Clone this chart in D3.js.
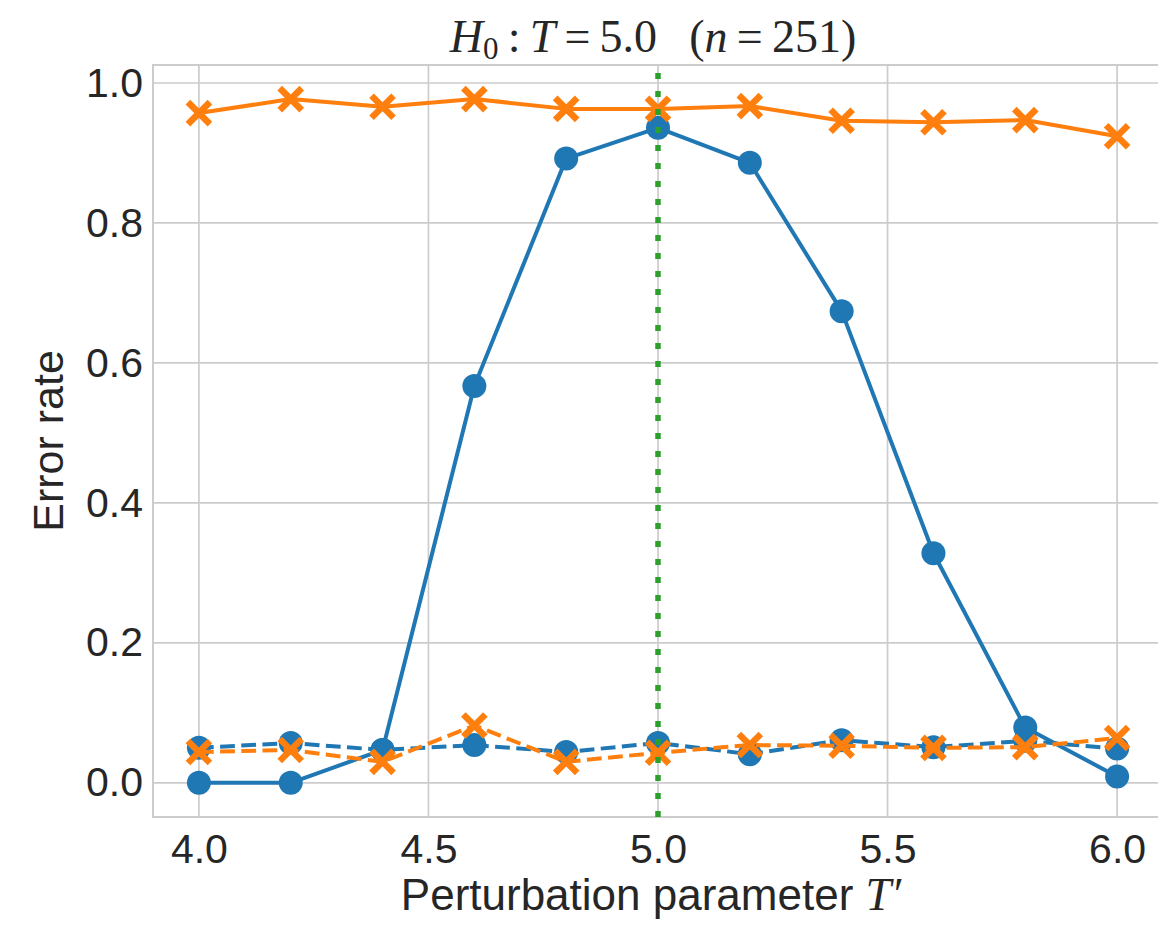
<!DOCTYPE html>
<html>
<head>
<meta charset="utf-8">
<script src="https://cdn.jsdelivr.net/npm/d3@7"></script>
<style>
  html, body { margin: 0; padding: 0; background: #ffffff; }
  svg { display: block; }
</style>
</head>
<body>
<svg id="chart" width="1158" height="927"></svg>
<script>
// Perturbation parameter values (x axis)
const tPrime = [4.0, 4.2, 4.4, 4.6, 4.8, 5.0, 5.2, 5.4, 5.6, 5.8, 6.0];

// Error rates per method / condition
const blueSolid    = [0.000, 0.000, 0.047, 0.567, 0.892, 0.936, 0.886, 0.674, 0.328, 0.079, 0.009];
const orangeSolid  = [0.957, 0.977, 0.966, 0.977, 0.963, 0.963, 0.967, 0.946, 0.944, 0.947, 0.924];
const blueDashed   = [0.050, 0.057, 0.047, 0.054, 0.044, 0.057, 0.041, 0.061, 0.051, 0.060, 0.049];
const orangeDashed = [0.044, 0.047, 0.030, 0.082, 0.030, 0.043, 0.054, 0.053, 0.050, 0.051, 0.064];

const nullT = 5.0;
const xTicks = [4.0, 4.5, 5.0, 5.5, 6.0];
const yTicks = [0.0, 0.2, 0.4, 0.6, 0.8, 1.0];

const BLUE = "#1f77b4", ORANGE = "#ff7f0e", GREEN = "#2ca02c";
const GRID = "#cccccc", TEXT = "#262626";
const SANS = "'Liberation Sans', Arial, Helvetica, sans-serif";
const SERIF = "'Liberation Serif', 'Times New Roman', serif";

const svg = d3.select("#chart");

// Plot area
const plotL = 153, plotR = 1163, plotT = 65, plotB = 817;
const x = d3.scaleLinear().domain([3.9, 6.1]).range([plotL, plotR]);
const y = d3.scaleLinear().domain([-0.0488, 1.0257]).range([plotB, plotT]);

const plot = svg.append("g");

// Grid lines
plot.append("g").selectAll("line").data(xTicks).join("line")
  .attr("x1", d => x(d)).attr("x2", d => x(d))
  .attr("y1", plotT).attr("y2", plotB)
  .attr("stroke", GRID).attr("stroke-width", 1.7);
plot.append("g").selectAll("line").data(yTicks).join("line")
  .attr("x1", plotL).attr("x2", plotR)
  .attr("y1", d => y(d)).attr("y2", d => y(d))
  .attr("stroke", GRID).attr("stroke-width", 1.7);

// Frame
plot.append("rect")
  .attr("x", plotL).attr("y", plotT)
  .attr("width", plotR - plotL).attr("height", plotB - plotT)
  .attr("fill", "none").attr("stroke", GRID).attr("stroke-width", 2);

// Axes (labels only, no tick marks)
const xAxis = d3.axisBottom(x).tickValues(xTicks).tickFormat(d3.format(".1f")).tickSize(0).tickPadding(17);
const yAxis = d3.axisLeft(y).tickValues(yTicks).tickFormat(d3.format(".1f")).tickSize(0).tickPadding(10);

const gx = svg.append("g").attr("transform", `translate(0,${plotB})`).call(xAxis);
const gy = svg.append("g").attr("transform", `translate(${plotL},0)`).call(yAxis);
[gx, gy].forEach(g => {
  g.select(".domain").remove();
  g.selectAll("text")
    .attr("font-family", SANS).attr("font-size", 41).attr("fill", TEXT);
});

const line = d3.line().x((d, i) => x(tPrime[i])).y(d => y(d));

function drawSeries(values, color, dashed, marker) {
  const g = plot.append("g");
  g.append("path")
    .attr("d", line(values))
    .attr("fill", "none")
    .attr("stroke", color)
    .attr("stroke-width", 4)
    .attr("stroke-linejoin", "round")
    .attr("stroke-dasharray", dashed ? "14.8 6.4" : null);
  const pts = g.selectAll("g").data(values).join("g")
    .attr("transform", (d, i) => `translate(${x(tPrime[i])},${y(d)})`);
  if (marker === "o") {
    pts.append("circle").attr("r", 12).attr("fill", color);
  } else {
    const s = 11;
    pts.append("path")
      .attr("d", `M${-s},${-s}L${s},${s}M${-s},${s}L${s},${-s}`)
      .attr("stroke", color).attr("stroke-width", 6.5)
      .attr("fill", "none");
  }
}

drawSeries(blueSolid, BLUE, false, "o");
drawSeries(orangeSolid, ORANGE, false, "x");
drawSeries(blueDashed, BLUE, true, "o");
drawSeries(orangeDashed, ORANGE, true, "x");

// Null-hypothesis reference line
plot.append("line")
  .attr("x1", x(nullT)).attr("x2", x(nullT))
  .attr("y1", plotB).attr("y2", plotT)
  .attr("stroke", GREEN).attr("stroke-width", 5.5)
  .attr("stroke-dasharray", "6 12");

// Axis labels
svg.append("text")
  .attr("x", 651).attr("y", 910)
  .attr("text-anchor", "middle")
  .attr("font-family", SANS).attr("font-size", 44).attr("fill", TEXT)
  .call(t => {
    t.append("tspan").text("Perturbation parameter ");
    t.append("tspan").attr("font-family", SERIF).attr("font-style", "italic").attr("font-size", 46).text("T\u2032");
  });

svg.append("text")
  .attr("transform", `translate(63,${(plotT + plotB) / 2}) rotate(-90)`)
  .attr("text-anchor", "middle")
  .attr("font-family", SANS).attr("font-size", 43).attr("fill", TEXT)
  .text("Error rate");

// Title
svg.append("text")
  .attr("x", 653).attr("y", 52)
  .attr("text-anchor", "middle")
  .attr("font-family", SERIF).attr("font-size", 46).attr("fill", TEXT)
  .call(t => {
    t.append("tspan").attr("font-style", "italic").text("H");
    t.append("tspan").attr("font-size", 31).attr("dy", 7).text("0");
    t.append("tspan").attr("dy", -7).text("\u2009:\u2009");
    t.append("tspan").attr("font-style", "italic").text("T");
    t.append("tspan").text("\u2009=\u20095.0\u2002\u2009(");
    t.append("tspan").attr("font-style", "italic").text("n");
    t.append("tspan").text("\u2009=\u2009251)");
  });
</script>
</body>
</html>
